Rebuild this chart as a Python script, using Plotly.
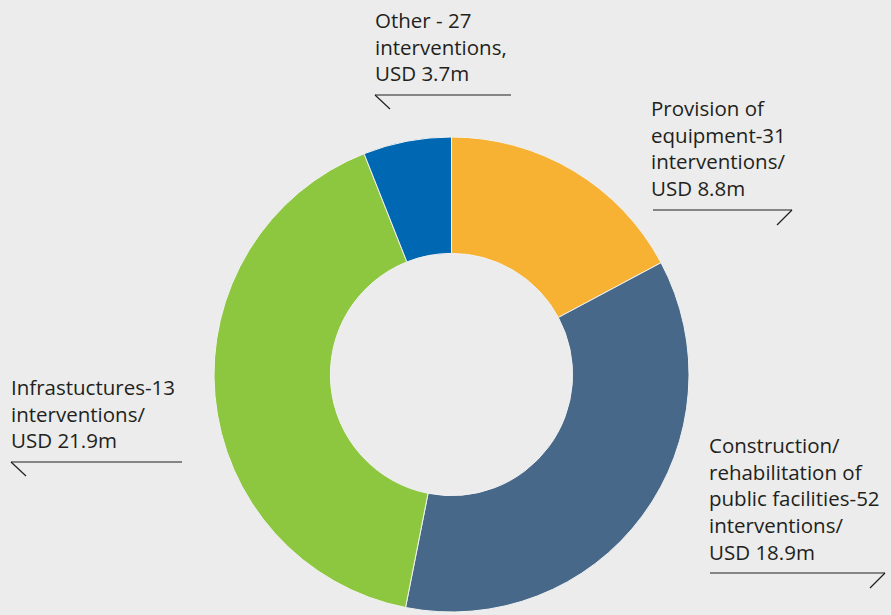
import plotly.graph_objects as go

categories = ["Provision of equipment", "Construction/rehabilitation of public facilities",
              "Infrastructures", "Other"]
interventions = [31, 52, 13, 27]
usd_m = [8.8, 18.9, 21.9, 3.7]
# slice shares (%) as drawn in the reference picture
share_pct = [17.2, 35.9, 40.9, 6.0]
colors = ["#F7B133", "#476889", "#8DC63F", "#0068B3"]

label_texts = [
    "Provision of<br>equipment-31<br>interventions/<br>USD 8.8m",
    "Construction/<br>rehabilitation of<br>public facilities-52<br>interventions/<br>USD 18.9m",
    "Infrastuctures-13<br>interventions/<br>USD 21.9m",
    "Other - 27<br>interventions,<br>USD 3.7m",
]

W, H = 891, 615
bg = "#EBECEB"

fig = go.Figure(go.Pie(
    labels=categories, values=share_pct, hole=0.51, sort=False, direction="clockwise",
    rotation=0, textinfo="none", hoverinfo="label",
    marker=dict(colors=colors, line=dict(color="#F2F2F2", width=1)),
    domain=dict(x=[213/W, 690/W], y=[3/H, 478/H]),
    showlegend=False,
))

def px(x): return x / W
def py(y): return 1 - y / H

# label placements: (text index, left x, top y, line y, line x0, line x1, tick side)
placements = [
    (3, 373, 4, 95, 375, 511, "left"),
    (0, 649, 92, 210, 653, 792, "right"),
    (2, 9, 371, 462, 11, 182, "left"),
    (1, 707, 429, 573, 710, 885, "right"),
]
shapes = []
annotations = []
for idx, lx, ty, ly, x0, x1, side in placements:
    annotations.append(dict(
        x=px(lx), y=py(ty), xref="paper", yref="paper", xanchor="left", yanchor="top",
        text=label_texts[idx], showarrow=False, align="left",
        font=dict(family="Open Sans, Lato, sans-serif", size=20.5, color="#231F20"),
    ))
    shapes.append(dict(type="line", xref="paper", yref="paper",
                       x0=px(x0), x1=px(x1), y0=py(ly), y1=py(ly),
                       line=dict(color="#231F20", width=1.2)))
    if side == "left":
        shapes.append(dict(type="line", xref="paper", yref="paper",
                           x0=px(x0), y0=py(ly), x1=px(x0 + 15), y1=py(ly + 14),
                           line=dict(color="#231F20", width=1.2)))
    else:
        shapes.append(dict(type="line", xref="paper", yref="paper",
                           x0=px(x1), y0=py(ly), x1=px(x1 - 15), y1=py(ly + 15),
                           line=dict(color="#231F20", width=1.2)))

fig.update_layout(
    width=W, height=H, margin=dict(l=0, r=0, t=0, b=0),
    paper_bgcolor=bg, plot_bgcolor=bg,
    shapes=shapes, annotations=annotations,
)
fig.write_html("out.html", config={"displayModeBar": False},
               post_script="document.body.style.margin='0';document.body.style.background='#EBECEB';")
